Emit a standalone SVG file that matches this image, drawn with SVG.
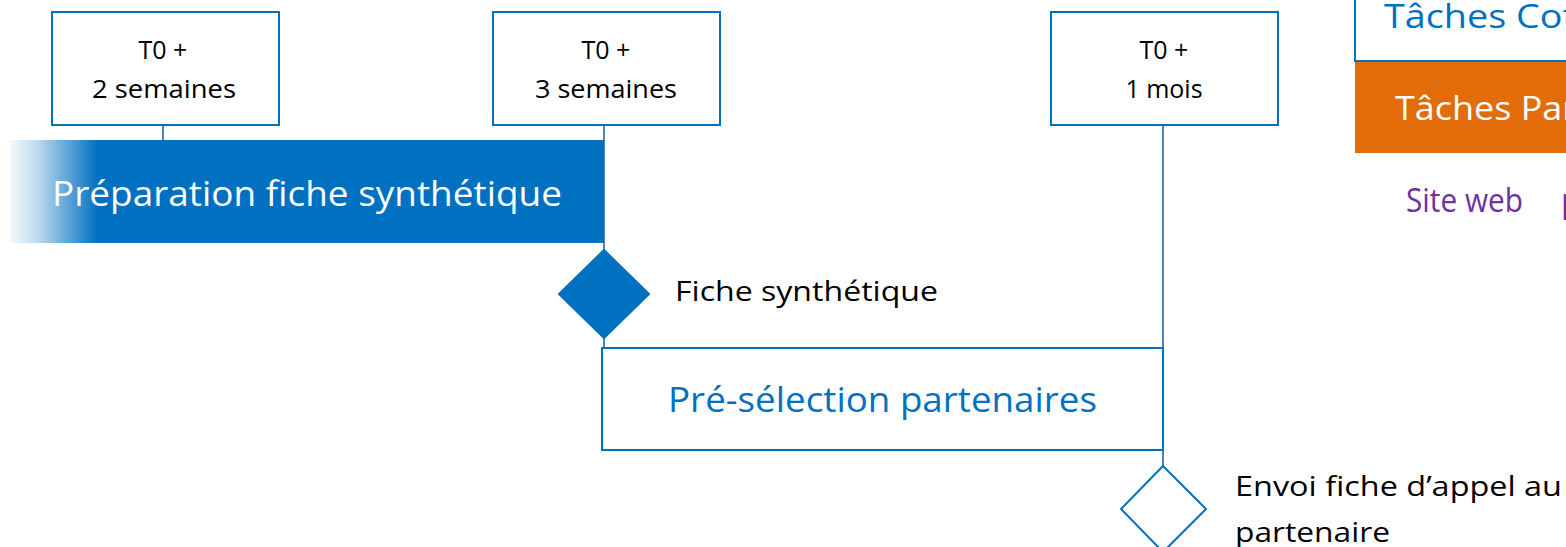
<svg xmlns="http://www.w3.org/2000/svg" width="1566" height="547" viewBox="0 0 1566 547">
<defs>
<linearGradient id="fade" gradientUnits="userSpaceOnUse" x1="10" y1="0" x2="98" y2="0">
<stop offset="0" stop-color="#0070C0" stop-opacity="0.04"/>
<stop offset="0.3" stop-color="#0070C0" stop-opacity="0.25"/>
<stop offset="1" stop-color="#0070C0" stop-opacity="1"/>
</linearGradient>
<style>
.box{fill:#fff;stroke:#0070C0;stroke-width:2}
.ln{stroke:#4F81BD;stroke-width:2;fill:none}
.t{font-family:"Open Sans","Liberation Sans",sans-serif;fill:#000}
.c{text-anchor:middle}
</style>
</defs>
<rect width="1566" height="547" fill="#fff"/>
<g id="connectors">
<line class="ln" x1="163" y1="125" x2="163" y2="140"/>
<line class="ln" x1="604" y1="125" x2="604" y2="250"/>
<line class="ln" x1="604" y1="337" x2="604" y2="348"/>
<line class="ln" x1="1163" y1="125" x2="1163" y2="467"/>
</g>
<g id="n-t2">
<rect class="box" x="52" y="12" width="227" height="113"/>
<text class="t c" x="163" y="59" font-size="25">T0 +</text>
<text class="t c" x="164" y="98" font-size="25" textLength="144" lengthAdjust="spacingAndGlyphs">2 semaines</text>
</g>
<g id="n-t3">
<rect class="box" x="493" y="12" width="227" height="113"/>
<text class="t c" x="606" y="59" font-size="25">T0 +</text>
<text class="t c" x="606" y="98" font-size="25" textLength="142" lengthAdjust="spacingAndGlyphs">3 semaines</text>
</g>
<g id="n-t1m">
<rect class="box" x="1051" y="12" width="227" height="113"/>
<text class="t c" x="1164" y="59" font-size="25">T0 +</text>
<text class="t c" x="1164" y="98" font-size="25">1 mois</text>
</g>
<g id="n-prep">
<rect x="10" y="140" width="88" height="103" fill="url(#fade)"/>
<rect x="97" y="140" width="507" height="103" fill="#0070C0"/>
<text class="t" x="52" y="206" font-size="34" style="fill:#fff" textLength="510" lengthAdjust="spacingAndGlyphs">Préparation fiche synthétique</text>
</g>
<g id="n-fiche">
<path d="M604 250 L649 294 L604 338 L559 294 Z" fill="#0070C0" stroke="#0070C0" stroke-width="2" stroke-linejoin="round"/>
<text class="t" x="675" y="301" font-size="27" textLength="263" lengthAdjust="spacingAndGlyphs">Fiche synthétique</text>
</g>
<g id="n-presel">
<rect class="box" x="602" y="348" width="561" height="102"/>
<text class="t" x="668" y="412" font-size="34" style="fill:#0070C0" textLength="429" lengthAdjust="spacingAndGlyphs">Pré-sélection partenaires</text>
</g>
<g id="n-envoi">
<path d="M1163 466 L1206 509 L1163 552 L1121 509 Z" fill="#fff" stroke="#0070C0" stroke-width="2"/>
<text class="t" x="1235" y="496" font-size="28" textLength="327" lengthAdjust="spacingAndGlyphs">Envoi fiche d’appel au</text>
<text class="t" x="1235" y="542" font-size="28" textLength="155" lengthAdjust="spacingAndGlyphs">partenaire</text>
</g>
<g id="legend">
<rect class="box" x="1355" y="-10" width="230" height="71"/>
<text class="t" x="1384" y="28" font-size="32" style="fill:#0070C0" textLength="192" lengthAdjust="spacingAndGlyphs">Tâches Cot</text>
<rect x="1355" y="62" width="220" height="91" fill="#E36C0A"/>
<text class="t" x="1395" y="120" font-size="32" style="fill:#fff" textLength="182" lengthAdjust="spacingAndGlyphs">Tâches Par</text>
<text class="t" x="1406" y="212" font-size="32" style="fill:#7030A0" textLength="117" lengthAdjust="spacingAndGlyphs">Site web</text>
<text class="t" x="1561" y="212" font-size="32" style="fill:#7030A0">p</text>
</g>
</svg>
